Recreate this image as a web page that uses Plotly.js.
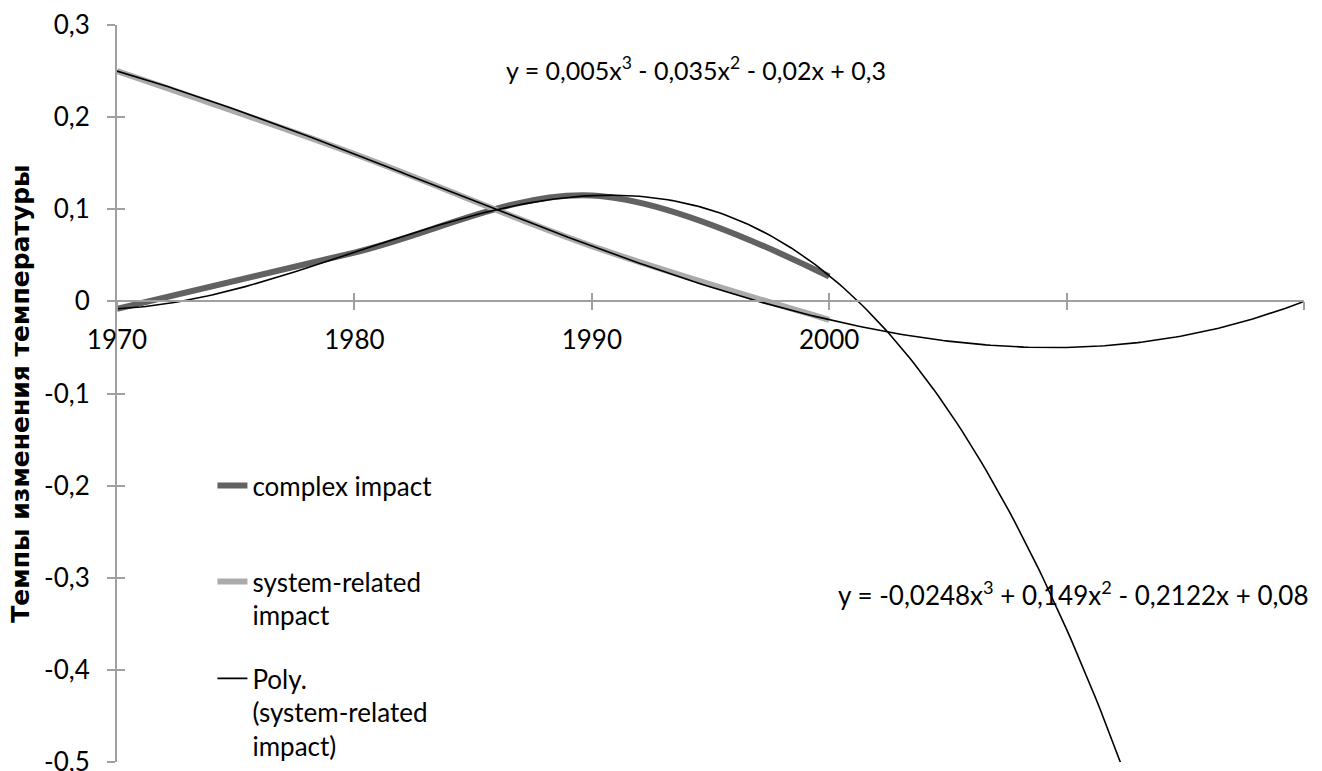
<!DOCTYPE html>
<html>
<head>
<meta charset="utf-8">
<script src="https://cdn.plot.ly/plotly-3.0.1.min.js"></script>
<style>html,body{margin:0;padding:0;background:#fff;}#chart{width:1322px;height:771px;}</style>
</head>
<body>
<div id="chart"></div>
<script>
// Category axis: points sit at positions 1..4, trendlines forecast 2 periods forward (to 6)
const categoryLabels = ['1970', '1980', '1990', '2000'];
const labelPositions = [1, 2, 3, 4];
const tickPositions = [1, 2, 3, 4, 5, 6];
const dataPositions = [1, 2, 3, 4];

// Series values
const complexImpact = [-0.008, 0.053, 0.115, 0.027];
const systemImpact = [0.25, 0.16, 0.06, -0.02];

// Polynomial trendline coefficients as printed on the chart (x^3, x^2, x, const)
const trendComplexCoef = [-0.0248, 0.149, -0.2122, 0.08];
const trendSystemCoef = [0.005, -0.035, -0.02, 0.3];
const trendSpan = [1, 6];

// Axis ticks
const yTickValues = [0.3, 0.2, 0.1, 0, -0.1, -0.2, -0.3, -0.4, -0.5];
const yTickLabels = ['0,3', '0,2', '0,1', '0', '-0,1', '-0,2', '-0,3', '-0,4', '-0,5'];

const eqSystem = 'y = 0,005x<sup>3</sup> - 0,035x<sup>2</sup> - 0,02x + 0,3';
const eqComplex = 'y = -0,0248x<sup>3</sup> + 0,149x<sup>2</sup> - 0,2122x + 0,08';

function trendCurve(coef, span) {
  const xs = [], ys = [];
  const n = 250;
  for (let i = 0; i <= n; i++) {
    const x = span[0] + (span[1] - span[0]) * i / n;
    xs.push(x);
    ys.push(coef[0] * x * x * x + coef[1] * x * x + coef[2] * x + coef[3]);
  }
  return {xs, ys};
}
const tc = trendCurve(trendComplexCoef, trendSpan);
const ts = trendCurve(trendSystemCoef, trendSpan);

const FONT = 'Lato, "Open Sans", sans-serif';
const FS = 26;
const AXIS_COLOR = '#a0a0a0';

const traces = [
  {x: dataPositions, y: complexImpact, type: 'scatter', mode: 'lines', name: 'complex impact',
   line: {color: '#626262', width: 6, shape: 'spline', smoothing: 1}, legend: 'legend'},
  {x: dataPositions, y: systemImpact, type: 'scatter', mode: 'lines', name: 'system-related<br>impact',
   line: {color: '#ababab', width: 6, shape: 'spline', smoothing: 1}, legend: 'legend2'},
  {x: tc.xs, y: tc.ys, type: 'scatter', mode: 'lines', name: 'Poly. (complex impact)', showlegend: false,
   line: {color: '#000000', width: 1.6}},
  {x: ts.xs, y: ts.ys, type: 'scatter', mode: 'lines', name: 'Poly.<br>(system-related<br>impact)',
   line: {color: '#000000', width: 1.6}, legend: 'legend3'},
  // empty carriers so the tick-only overlay axes get drawn
  {x: [], y: [], type: 'scatter', mode: 'lines', xaxis: 'x2', yaxis: 'y2', showlegend: false, hoverinfo: 'skip'},
  {x: [], y: [], type: 'scatter', mode: 'lines', xaxis: 'x3', yaxis: 'y2', showlegend: false, hoverinfo: 'skip'}
];

const legendBase = {xanchor: 'left', yanchor: 'top', bgcolor: 'rgba(0,0,0,0)', valign: 'top',
  font: {family: FONT, size: 26, color: '#000'}, borderwidth: 0};

const tickAxisBase = {range: [1, 6], overlaying: 'x', tickmode: 'array', tickvals: tickPositions,
  anchor: 'free', position: 0.625, showline: false, ticklen: 8, tickwidth: 2, tickcolor: AXIS_COLOR,
  showticklabels: false, showgrid: false, zeroline: false};

const layout = {
  width: 1322, height: 771,
  margin: {l: 117, r: 18, t: 25, b: 9, autoexpand: false},
  paper_bgcolor: '#fff', plot_bgcolor: '#fff',
  font: {family: FONT, size: FS, color: '#000'},
  separators: ', ',
  showlegend: true,
  xaxis: {
    range: [1, 6], tickmode: 'array', tickvals: labelPositions, ticktext: categoryLabels,
    anchor: 'free', position: 0.625,
    showline: true, linecolor: AXIS_COLOR, linewidth: 2,
    ticks: '', ticklabelstandoff: 15,
    showgrid: false, zeroline: false, tickfont: {family: FONT, size: FS, color: '#000'}
  },
  xaxis2: Object.assign({}, tickAxisBase, {ticks: 'outside'}),
  xaxis3: Object.assign({}, tickAxisBase, {ticks: 'inside'}),
  yaxis: {
    range: [-0.5, 0.3], tickmode: 'array', tickvals: yTickValues, ticktext: yTickLabels,
    showline: true, linecolor: AXIS_COLOR, linewidth: 2,
    ticks: 'outside', ticklen: 8, tickwidth: 2, tickcolor: AXIS_COLOR, ticklabelstandoff: 12,
    ticklabeloverflow: 'allow',
    showgrid: false, zeroline: false, tickfont: {family: FONT, size: FS, color: '#000'},
    title: {text: 'Темпы изменения температуры', font: {family: '"DejaVu Sans", sans-serif', size: 25, color: '#000', weight: 'bold'}, standoff: 7}
  },
  yaxis2: {
    range: [-0.5, 0.3], overlaying: 'y', anchor: 'x', side: 'left', tickmode: 'array', tickvals: yTickValues,
    showline: false, ticks: 'inside', ticklen: 8, tickwidth: 2, tickcolor: AXIS_COLOR,
    showticklabels: false, showgrid: false, zeroline: false
  },
  legend: Object.assign({}, legendBase, {x: 0.0804, y: 0.407}),
  legend2: Object.assign({}, legendBase, {x: 0.0804, y: 0.2768}),
  legend3: Object.assign({}, legendBase, {x: 0.0804, y: 0.1452}),
  annotations: [
    {text: eqSystem, xref: 'paper', yref: 'paper', x: 0.4878, y: 0.941, showarrow: false,
     xanchor: 'center', yanchor: 'middle', font: {family: FONT, size: 25, color: '#000'}},
    {text: eqComplex, xref: 'paper', yref: 'paper', x: 0.8054, y: 0.2293, showarrow: false,
     xanchor: 'center', yanchor: 'middle', font: {family: FONT, size: 26, color: '#000'}}
  ]
};

Plotly.newPlot('chart', traces, layout, {displayModeBar: false, staticPlot: true});
</script>
</body>
</html>
